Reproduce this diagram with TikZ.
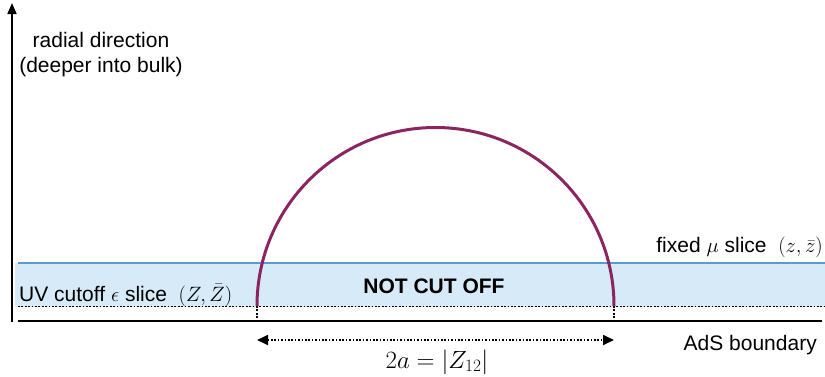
\documentclass[tikz,border=0pt]{standalone}
\usepackage{fontspec}
\setmainfont{Liberation Sans}
\usetikzlibrary{arrows.meta}
\definecolor{bandblue}{HTML}{D6EAF8}
\definecolor{bluelinecol}{HTML}{5B9BD5}
\definecolor{arccol}{HTML}{8C2461}
\tikzset{
  lbl/.style={inner sep=0pt, font=\fontsize{21}{25}\selectfont},
  dotln/.style={dash pattern=on 1.7pt off 1.7pt, line width=1.7pt},
  solidln/.style={line width=1.6pt},
}
\begin{document}
\begin{tikzpicture}[x=1pt,y=-1pt]
\useasboundingbox (0,0) rectangle (825,376);
% band
\fill[bandblue] (15,263) rectangle (825,306.5);
\coordinate (bl) at (18,263);
\coordinate (br) at (825,263);
\draw[bluelinecol, line width=1.7pt] (bl) -- (br);
\coordinate (dl) at (18,306.5);
\coordinate (dr) at (825,306.5);
\draw[dotln] (dl) -- (dr);
% AdS boundary line
\coordinate (al) at (18,321);
\coordinate (ar) at (822,321);
\draw[solidln] (al) -- (ar);
% radial axis
\coordinate (ax0) at (12,322);
\coordinate (ax1) at (12,3);
\draw[solidln, -{Triangle[length=11pt,width=9pt]}] (ax0) -- (ax1);
% geodesic arc
\coordinate (pl) at (257,306);
\coordinate (pr) at (614,306);
\draw[arccol, line width=3pt] (pl) arc[start angle=180, end angle=360, radius=178.5];
% verticals
\coordinate (ql) at (257,322);
\coordinate (qr) at (614,322);
\draw[dotln] (pl) -- (ql);
\draw[dotln] (pr) -- (qr);
% width arrow
\coordinate (wl) at (257,340);
\coordinate (wr) at (614,340);
\draw[dotln, {Triangle[length=11pt,width=10pt]}-{Triangle[length=11pt,width=10pt]}] (wl) -- (wr);
% labels
\node[lbl, align=center] (radial) at (101,55) {radial direction\\(deeper into bulk)};
\node[lbl, anchor=base west] (uv) at (19,301) {UV cutoff $\epsilon$ slice\ \ $(Z,\bar Z)$};
\node[lbl, anchor=base east] (fixed) at (823,252) {fixed $\mu$ slice\ \ $(z,\bar z)$};
\node[lbl, anchor=base, font=\fontsize{21}{25}\selectfont\bfseries] (nco) at (434,293) {NOT CUT OFF};
\node[lbl, anchor=base east] (ads) at (817,350) {AdS boundary};
\node[lbl, anchor=base, font=\fontsize{23}{27}\selectfont] (wlab) at (437,368) {$2a = |Z_{12}|$};
\end{tikzpicture}
\end{document}
